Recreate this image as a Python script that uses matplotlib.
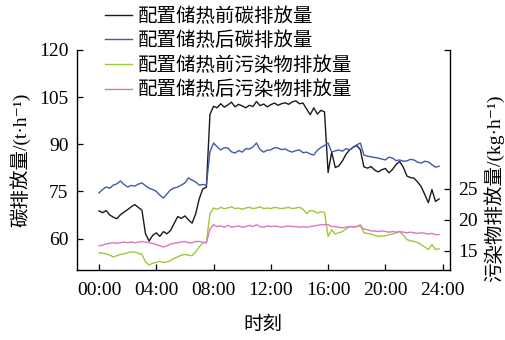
import numpy as np
import matplotlib
matplotlib.use('Agg')
import matplotlib.pyplot as plt

plt.rcParams['font.family'] = ['Liberation Serif', 'Noto Sans CJK SC', 'DejaVu Serif']
plt.rcParams['font.size'] = 14

# 15 min samples over one day
hours = np.arange(96) * 0.25

carbon_before = [
    68.8, 68.2, 68.9, 67.5,  66.8, 66.3, 67.6, 68.4,
    69.2, 70.1, 70.8, 69.9,  69.0, 61.5, 59.2, 61.0,
    61.8, 60.7, 62.2, 61.5,  62.6, 64.8, 67.0, 66.4,
    67.2, 65.9, 64.9, 67.8,  72.6, 75.8, 76.3, 99.5,
    102.1, 101.6, 102.9, 101.8,  102.5, 103.4, 101.9, 102.7,
    102.2, 101.6, 102.4, 102.0,  103.6, 102.3, 102.8, 101.9,
    102.6, 103.1, 102.4, 102.9,  103.2, 102.7, 103.5, 103.8,
    102.9, 103.1, 101.2, 99.4,  101.6, 99.6, 100.8, 100.3,
    81.0, 87.5, 82.6, 83.1,  84.7, 86.8, 88.2, 89.0,
    89.6, 88.3, 82.8, 82.4,  82.9, 81.8, 81.2, 81.9,
    82.3, 80.9, 82.0, 83.6,  84.5, 82.7, 79.9, 79.4,
    79.2, 78.0, 76.5, 74.0,  71.4, 75.6, 71.8, 72.6,
]
carbon_after = [
    74.5, 75.6, 76.4, 76.0,  77.0, 77.4, 78.3, 77.2,
    76.4, 76.9, 76.7, 77.3,  77.7, 76.8, 76.0, 75.6,
    75.0, 73.8, 72.9, 74.2,  75.5, 76.1, 76.4, 77.0,
    77.7, 79.3, 78.6, 78.0,  77.0, 77.2, 77.0, 87.6,
    90.4, 89.2, 88.2, 88.9,  88.8, 87.6, 87.2, 88.0,
    87.5, 88.6, 88.5, 89.1,  90.4, 88.3, 87.5, 88.1,
    88.2, 88.9, 88.8, 88.3,  88.5, 87.9, 87.5, 88.0,
    88.2, 87.3, 87.5, 86.9,  86.6, 88.1, 89.0, 89.6,
    90.4, 87.5, 87.9, 88.2,  87.8, 88.6, 88.2, 89.1,
    89.8, 90.4, 86.6, 86.2,  86.0, 85.8, 85.6, 85.3,
    85.0, 85.9, 85.6, 84.8,  85.0, 84.6, 84.7, 85.2,
    85.0, 84.3, 84.0, 84.6,  84.4, 83.5, 82.7, 83.0,
]
pollut_before = [
    14.7, 14.6, 14.5, 14.3,  14.0, 14.2, 14.4, 14.5,
    14.7, 14.8, 14.8, 14.6,  14.4, 13.2, 12.7, 13.0,
    13.1, 13.3, 13.1, 13.2,  13.4, 13.8, 14.0, 14.3,
    14.4, 14.3, 14.2, 14.8,  15.6, 16.3, 16.3, 21.0,
    21.9, 21.7, 22.0, 21.8,  21.9, 22.1, 21.8, 21.9,
    21.7, 21.9, 22.0, 21.8,  21.9, 22.1, 21.8, 21.9,
    21.8, 22.0, 21.9, 21.8,  21.9, 22.0, 21.8, 21.9,
    22.0, 21.7, 21.0, 21.5,  21.4, 21.1, 21.3, 21.2,
    17.3, 18.4, 17.7, 17.9,  18.1, 18.5, 18.9, 18.8,
    18.9, 19.2, 17.9, 17.8,  17.7, 17.5, 17.3, 17.4,
    17.4, 17.6, 17.7, 17.9,  18.1, 17.5, 16.8, 16.6,
    16.5, 16.3, 16.0, 15.6,  15.2, 16.0, 15.2, 15.3,
]
pollut_after = [
    15.8, 15.9, 16.1, 16.2,  16.3, 16.2, 16.3, 16.4,
    16.3, 16.4, 16.3, 16.4,  16.5, 16.4, 16.3, 16.2,
    16.0, 15.8, 15.6, 15.8,  16.1, 16.2, 16.3, 16.4,
    16.5, 16.3, 16.3, 16.5,  16.5, 16.4, 16.3, 18.5,
    19.2, 18.9, 19.0, 18.8,  19.1, 18.8, 18.9, 19.0,
    18.8, 18.9, 19.1, 18.9,  19.2, 18.9, 18.8, 19.0,
    18.9, 19.0, 18.9, 18.8,  18.9, 19.0, 18.9, 18.9,
    18.8, 18.9, 18.8, 18.9,  19.0, 19.1, 19.2, 19.2,
    19.2, 18.9, 18.9, 18.8,  18.7, 18.8, 18.9, 18.9,
    18.9, 19.0, 18.5, 18.4,  18.2, 18.2, 18.1, 18.2,
    18.1, 18.0, 18.1, 18.0,  18.1, 18.0, 17.9, 18.0,
    17.9, 17.8, 17.9, 17.8,  17.7, 17.8, 17.6, 17.6,
]

XTICKS = [0, 4, 8, 12, 16, 20, 24]
XLABELS = ['00:00', '04:00', '08:00', '12:00', '16:00', '20:00', '24:00']
LABELS = ('配置储热前碳排放量', '配置储热后碳排放量',
          '配置储热前污染物排放量', '配置储热后污染物排放量')
COLORS = ('#1a1a1a', '#4458b0', '#9cc93a', '#d877c4')

fig = plt.figure(figsize=(5.06, 3.40), dpi=100)
ax = fig.add_axes([0.152, 0.206, 0.737, 0.647])
ax2 = ax.twinx()

l1, = ax.plot(hours, carbon_before, color=COLORS[0], lw=1.0)
l2, = ax.plot(hours, carbon_after, color=COLORS[1], lw=1.0)
l3, = ax2.plot(hours, pollut_before, color=COLORS[2], lw=1.0)
l4, = ax2.plot(hours, pollut_after, color=COLORS[3], lw=1.0)

ax.set_xlim(-1.54, 24.5)
ax.set_ylim(50, 120)
ax2.set_ylim(11.9, 47.4)

ax.set_xticks(XTICKS)
ax.set_xticklabels(XLABELS)
ax.set_yticks([60, 75, 90, 105, 120])
ax2.set_yticks([15, 20, 25, 47.4])
ax2.set_yticklabels(['15', '20', '25', ''])

for a in (ax, ax2):
    a.spines['top'].set_visible(False)
    a.tick_params(direction='in', length=4, width=0.9, pad=6)
ax.tick_params(axis='x', pad=9)
ax.spines['right'].set_visible(False)
ax2.spines['left'].set_visible(False)
ax2.spines['bottom'].set_visible(False)
for s in ('left', 'bottom'):
    ax.spines[s].set_linewidth(1.0)
ax2.spines['right'].set_linewidth(1.0)

ax.set_xlabel('时刻', labelpad=12)
ax.set_ylabel('碳排放量/(t·h⁻¹)', labelpad=6)
ax2.set_ylabel('污染物排放量/(kg·h⁻¹)')
ax2.yaxis.set_label_coords(1.09, 0.37)

fig.legend([l1, l2, l3, l4], LABELS, loc='upper left',
           bbox_to_anchor=(105 / 506, 1 - 7 / 340), frameon=False,
           borderpad=0, borderaxespad=0, handlelength=1.4,
           handletextpad=0.3, labelspacing=0.3)

fig.savefig('out.png', dpi=100)
